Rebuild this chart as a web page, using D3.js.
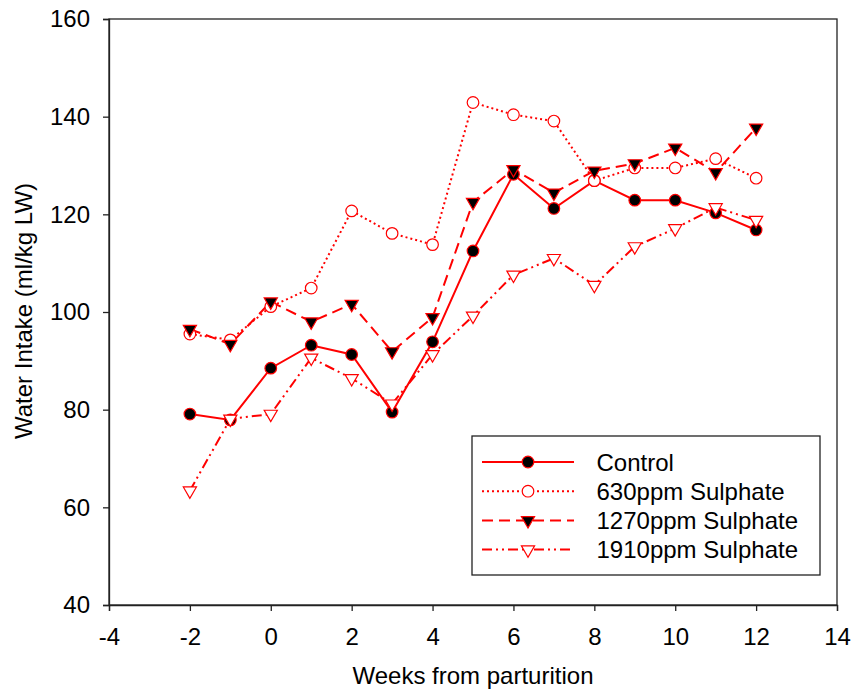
<!DOCTYPE html>
<html><head><meta charset="utf-8">
<script src="https://cdn.jsdelivr.net/npm/d3@7"></script>
<style>body{margin:0;background:#fff}svg{display:block}text{font-family:"Liberation Sans",Arial,sans-serif}</style>
</head><body>
<svg id="c" width="854" height="691"></svg>
<script>
const weeks = [-2,-1,0,1,2,3,4,5,6,7,8,9,10,11,12];
const control = [79.1,77.9,88.5,93.2,91.3,79.5,93.9,112.5,128.2,121.2,126.9,122.9,122.9,120.3,116.8];
const s630 = [95.5,94.3,101.1,104.9,120.7,116.1,113.8,142.9,140.4,139.1,126.9,129.5,129.5,131.4,127.4];
const s1270 = [96.5,93.4,102.1,98.0,101.6,91.9,98.9,122.5,129.2,124.4,128.9,130.4,133.6,128.6,137.7];
const s1910 = [63.4,78.1,79.1,90.6,86.4,81.2,91.3,99.2,107.6,111.0,105.5,113.4,117.1,121.4,118.8];
const seriesNames = ["Control","630ppm Sulphate","1270ppm Sulphate","1910ppm Sulphate"];
const xTicks = [-4,-2,0,2,4,6,8,10,12,14];
const yTicks = [40,60,80,100,120,140,160];

const series = [
  {name:seriesNames[0], values:control, dash:null, marker:"circle", fill:"#000"},
  {name:seriesNames[1], values:s630, dash:"2,3", marker:"circle", fill:"#fff"},
  {name:seriesNames[2], values:s1270, dash:"11,6", marker:"tri", fill:"#000"},
  {name:seriesNames[3], values:s1910, dash:"10,4,2,4,2,4", marker:"tri", fill:"#fff"}
];

const svg = d3.select("#c");
const L=109, R=837, T=19, B=605;
const x = d3.scaleLinear().domain([-4,14]).range([L,R]);
const y = d3.scaleLinear().domain([40,160]).range([B,T]);
const red = "#ff0000";
const FS = 24;
const fmt = d => String(d);

svg.append("rect").attr("x",L).attr("y",T).attr("width",R-L).attr("height",B-T)
  .attr("fill","none").attr("stroke","#222").attr("stroke-width",1.3);

const xa = svg.append("g").attr("transform",`translate(0,${B})`)
  .call(d3.axisBottom(x).tickValues(xTicks).tickSize(6).tickPadding(17).tickFormat(fmt));
const ya = svg.append("g").attr("transform",`translate(${L},0)`)
  .call(d3.axisLeft(y).tickValues(yTicks).tickSize(6).tickPadding(13).tickFormat(fmt));
[xa,ya].forEach(a=>{
  a.select(".domain").attr("stroke","#222").attr("stroke-width",1.3);
  a.selectAll(".tick line").attr("stroke","#222").attr("stroke-width",1.3);
  a.selectAll("text").attr("font-size",FS).attr("fill","#000").attr("font-family","'Liberation Sans', Arial, sans-serif");
});

svg.append("text").attr("x",(L+R)/2).attr("y",684).attr("text-anchor","middle")
  .attr("font-size",FS).text("Weeks from parturition");
svg.append("text").attr("transform",`translate(32,311) rotate(-90)`).attr("text-anchor","middle")
  .attr("font-size",FS).text("Water Intake (ml/kg LW)");

const line = d3.line().x(d=>x(d[0])).y(d=>y(d[1]));
const tri = d3.symbol().type(d3.symbolTriangle).size(75);

function drawMarker(g, s, px, py){
  if(s.marker==="circle"){
    g.append("circle").attr("cx",px).attr("cy",py).attr("r",5.8)
      .attr("fill",s.fill).attr("stroke",red).attr("stroke-width",1.2);
  } else {
    g.append("path").attr("d",tri()).attr("transform",`translate(${px},${py}) rotate(180)`)
      .attr("fill",s.fill).attr("stroke",red).attr("stroke-width",1.2);
  }
}

series.forEach(s=>{
  const pts = weeks.map((w,i)=>[w,s.values[i]]);
  svg.append("path").attr("d",line(pts)).attr("fill","none").attr("stroke",red)
    .attr("stroke-width",2).attr("stroke-dasharray",s.dash);
});
series.forEach(s=>{
  const g = svg.append("g");
  weeks.forEach((w,i)=>drawMarker(g,s,x(w),y(s.values[i])));
});

const lg = svg.append("g");
lg.append("rect").attr("x",472).attr("y",436).attr("width",348).attr("height",139)
  .attr("fill","#fff").attr("stroke","#222").attr("stroke-width",1.3);
series.forEach((s,i)=>{
  const yy = 462 + i*29.2;
  lg.append("line").attr("x1",482).attr("x2",574).attr("y1",yy).attr("y2",yy)
    .attr("stroke",red).attr("stroke-width",2).attr("stroke-dasharray",s.dash);
  drawMarker(lg,s,528,yy);
  lg.append("text").attr("x",596.5).attr("y",yy+8.7).attr("font-size",FS).text(s.name);
});
</script>
</body></html>
